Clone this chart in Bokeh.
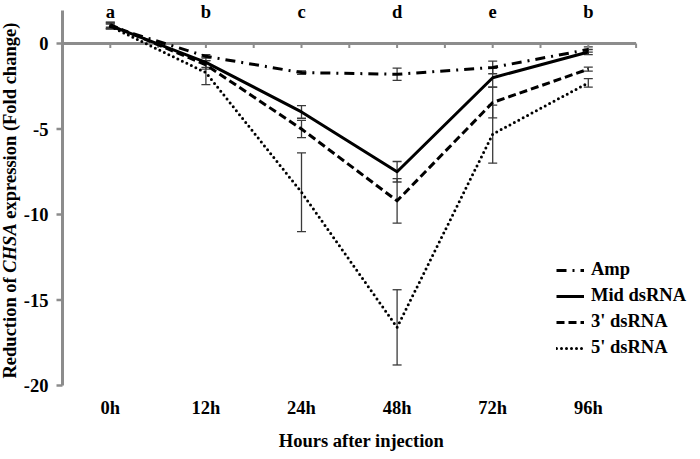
import math
from bokeh.plotting import figure
from bokeh.models import (Range1d, Whisker, TeeHead, ColumnDataSource,
                          Legend, LegendItem, Label)
from bokeh.core.properties import value
from bokeh.embed import file_html
from bokeh.resources import INLINE

# ---- data ----
times = ["0h", "12h", "24h", "48h", "72h", "96h"]
letters = ["a", "b", "c", "d", "e", "b"]
series_names = ["Amp", "Mid dsRNA", "3' dsRNA", "5' dsRNA"]
amp = [1.0, -0.75, -1.7, -1.8, -1.4, -0.35]
amp_err = [0.15, 0.1, 0.1, 0.36, 0.37, 0.15]
mid = [1.05, -1.1, -4.0, -7.5, -2.0, -0.5]
mid_err = [0.18, 0.3, 0.37, 0.6, 0.55, 0.15]
three = [1.1, -1.25, -5.0, -9.2, -3.45, -1.5]
three_err = [0.15, 0.25, 0.5, 1.3, 0.9, 0.12]
five = [1.0, -1.7, -8.7, -16.6, -5.3, -2.3]
five_err = [0.15, 0.7, 2.3, 2.2, 1.7, 0.25]
y_ticks = [-20, -15, -10, -5, 0]
y_top = 1.93

# ---- layout constants (pixels) ----
W, H = 700, 459
X0_PX, PX_X = 62, 95.6      # y-axis position, pixels per category
Y0_PX, PX_Y = 43, 17.1      # zero line position, pixels per unit
FONT = "Liberation Serif"
GRAY = "#8c8c8c"
FS = "18.5px"

n = len(times)
xs = [i + 0.5 for i in range(n)]

p = figure(width=W, height=H,
           x_range=Range1d(-X0_PX / PX_X, (W - X0_PX) / PX_X),
           y_range=Range1d(-(H - Y0_PX) / PX_Y, Y0_PX / PX_Y),
           output_backend="svg", toolbar_location=None,
           min_border_left=0, min_border_right=0, min_border_top=0, min_border_bottom=0)
p.outline_line_color = None
p.grid.visible = False
p.xaxis.visible = False
p.yaxis.visible = False

# ---- axes drawn in data space ----
y_min = min(y_ticks)
p.segment(x0=[0], y0=[y_min], x1=[0], y1=[y_top], line_color=GRAY, line_width=3)
p.segment(x0=[-6 / PX_X] * len(y_ticks), y0=y_ticks, x1=[0] * len(y_ticks), y1=y_ticks,
          line_color=GRAY, line_width=2.5)
p.segment(x0=[0], y0=[0], x1=[n], y1=[0], line_color=GRAY, line_width=3)
tick_x = [k * 0.5 for k in range(1, 2 * n + 1)]
p.segment(x0=tick_x, y0=[0] * len(tick_x), x1=tick_x, y1=[-4.5 / PX_Y] * len(tick_x),
          line_color=GRAY, line_width=2)

p.text(x=[0] * len(y_ticks), y=y_ticks, text=[str(t) for t in y_ticks], x_offset=-14,
       text_font=value(FONT), text_font_style="bold", text_font_size=FS,
       text_align="right", text_baseline="middle", text_color="black")
p.text(x=xs, y=[y_min] * n, text=times, y_offset=22,
       text_font=value(FONT), text_font_style="bold", text_font_size=FS,
       text_align="center", text_baseline="middle", text_color="black")

# ---- series ----
styles = [
    dict(line_dash="10 6 2 6"),
    dict(line_dash="solid"),
    dict(line_dash="8 4"),
    dict(line_dash="0 5", line_cap="round"),
]
vals = [amp, mid, three, five]
errs = [amp_err, mid_err, three_err, five_err]
renderers = []
for v, e, st in zip(vals, errs, styles):
    r = p.line(xs, v, line_color="black", line_width=3, line_join="round", **st)
    renderers.append(r)
    src = ColumnDataSource(dict(x=xs, upper=[a + b for a, b in zip(v, e)],
                                lower=[a - b for a, b in zip(v, e)]))
    w = Whisker(base="x", upper="upper", lower="lower", source=src,
                line_color="#3a3a3a", line_width=1.3,
                upper_head=TeeHead(size=9, line_color="#3a3a3a", line_width=1.3),
                lower_head=TeeHead(size=9, line_color="#3a3a3a", line_width=1.3))
    p.add_layout(w)

# significance letters
p.text(x=xs, y=[(Y0_PX - 11) / PX_Y] * n, text=letters, text_font=value(FONT),
       text_font_style="bold", text_font_size=FS, text_align="center",
       text_baseline="alphabetic", text_color="black")

legend = Legend(items=[LegendItem(label=nm, renderers=[r]) for nm, r in zip(series_names, renderers)],
                location=(556, 101), padding=0, margin=0, spacing=5,
                glyph_width=28, glyph_height=20, label_height=20, label_standoff=7,
                border_line_alpha=0, background_fill_alpha=0,
                label_text_font=FONT, label_text_font_style="bold",
                label_text_font_size=FS, label_text_color="black")
p.add_layout(legend)

# axis titles
p.add_layout(Label(x=361, y=H - 440, x_units="screen", y_units="screen",
                   text="Hours after injection", text_font=FONT, text_font_style="bold",
                   text_font_size=FS, text_align="center", text_baseline="middle",
                   text_color="black"))
fs = 18.5
pieces = [("Reduction of", "bold", 5.722), ("CHSA", "bold italic", 2.668 + 0.25),
          ("expression (Fold change)", "bold", 0.0)]
pos = H - 378.0
for txt, style, adv in pieces:
    p.add_layout(Label(x=9, y=pos, x_units="screen", y_units="screen", text=txt,
                       angle=math.pi / 2, text_font=FONT, text_font_style=style,
                       text_font_size=f"{fs}px", text_align="left", text_baseline="middle",
                       text_color="black"))
    pos += adv * fs

open("out.html", "w").write(file_html(p, INLINE))
